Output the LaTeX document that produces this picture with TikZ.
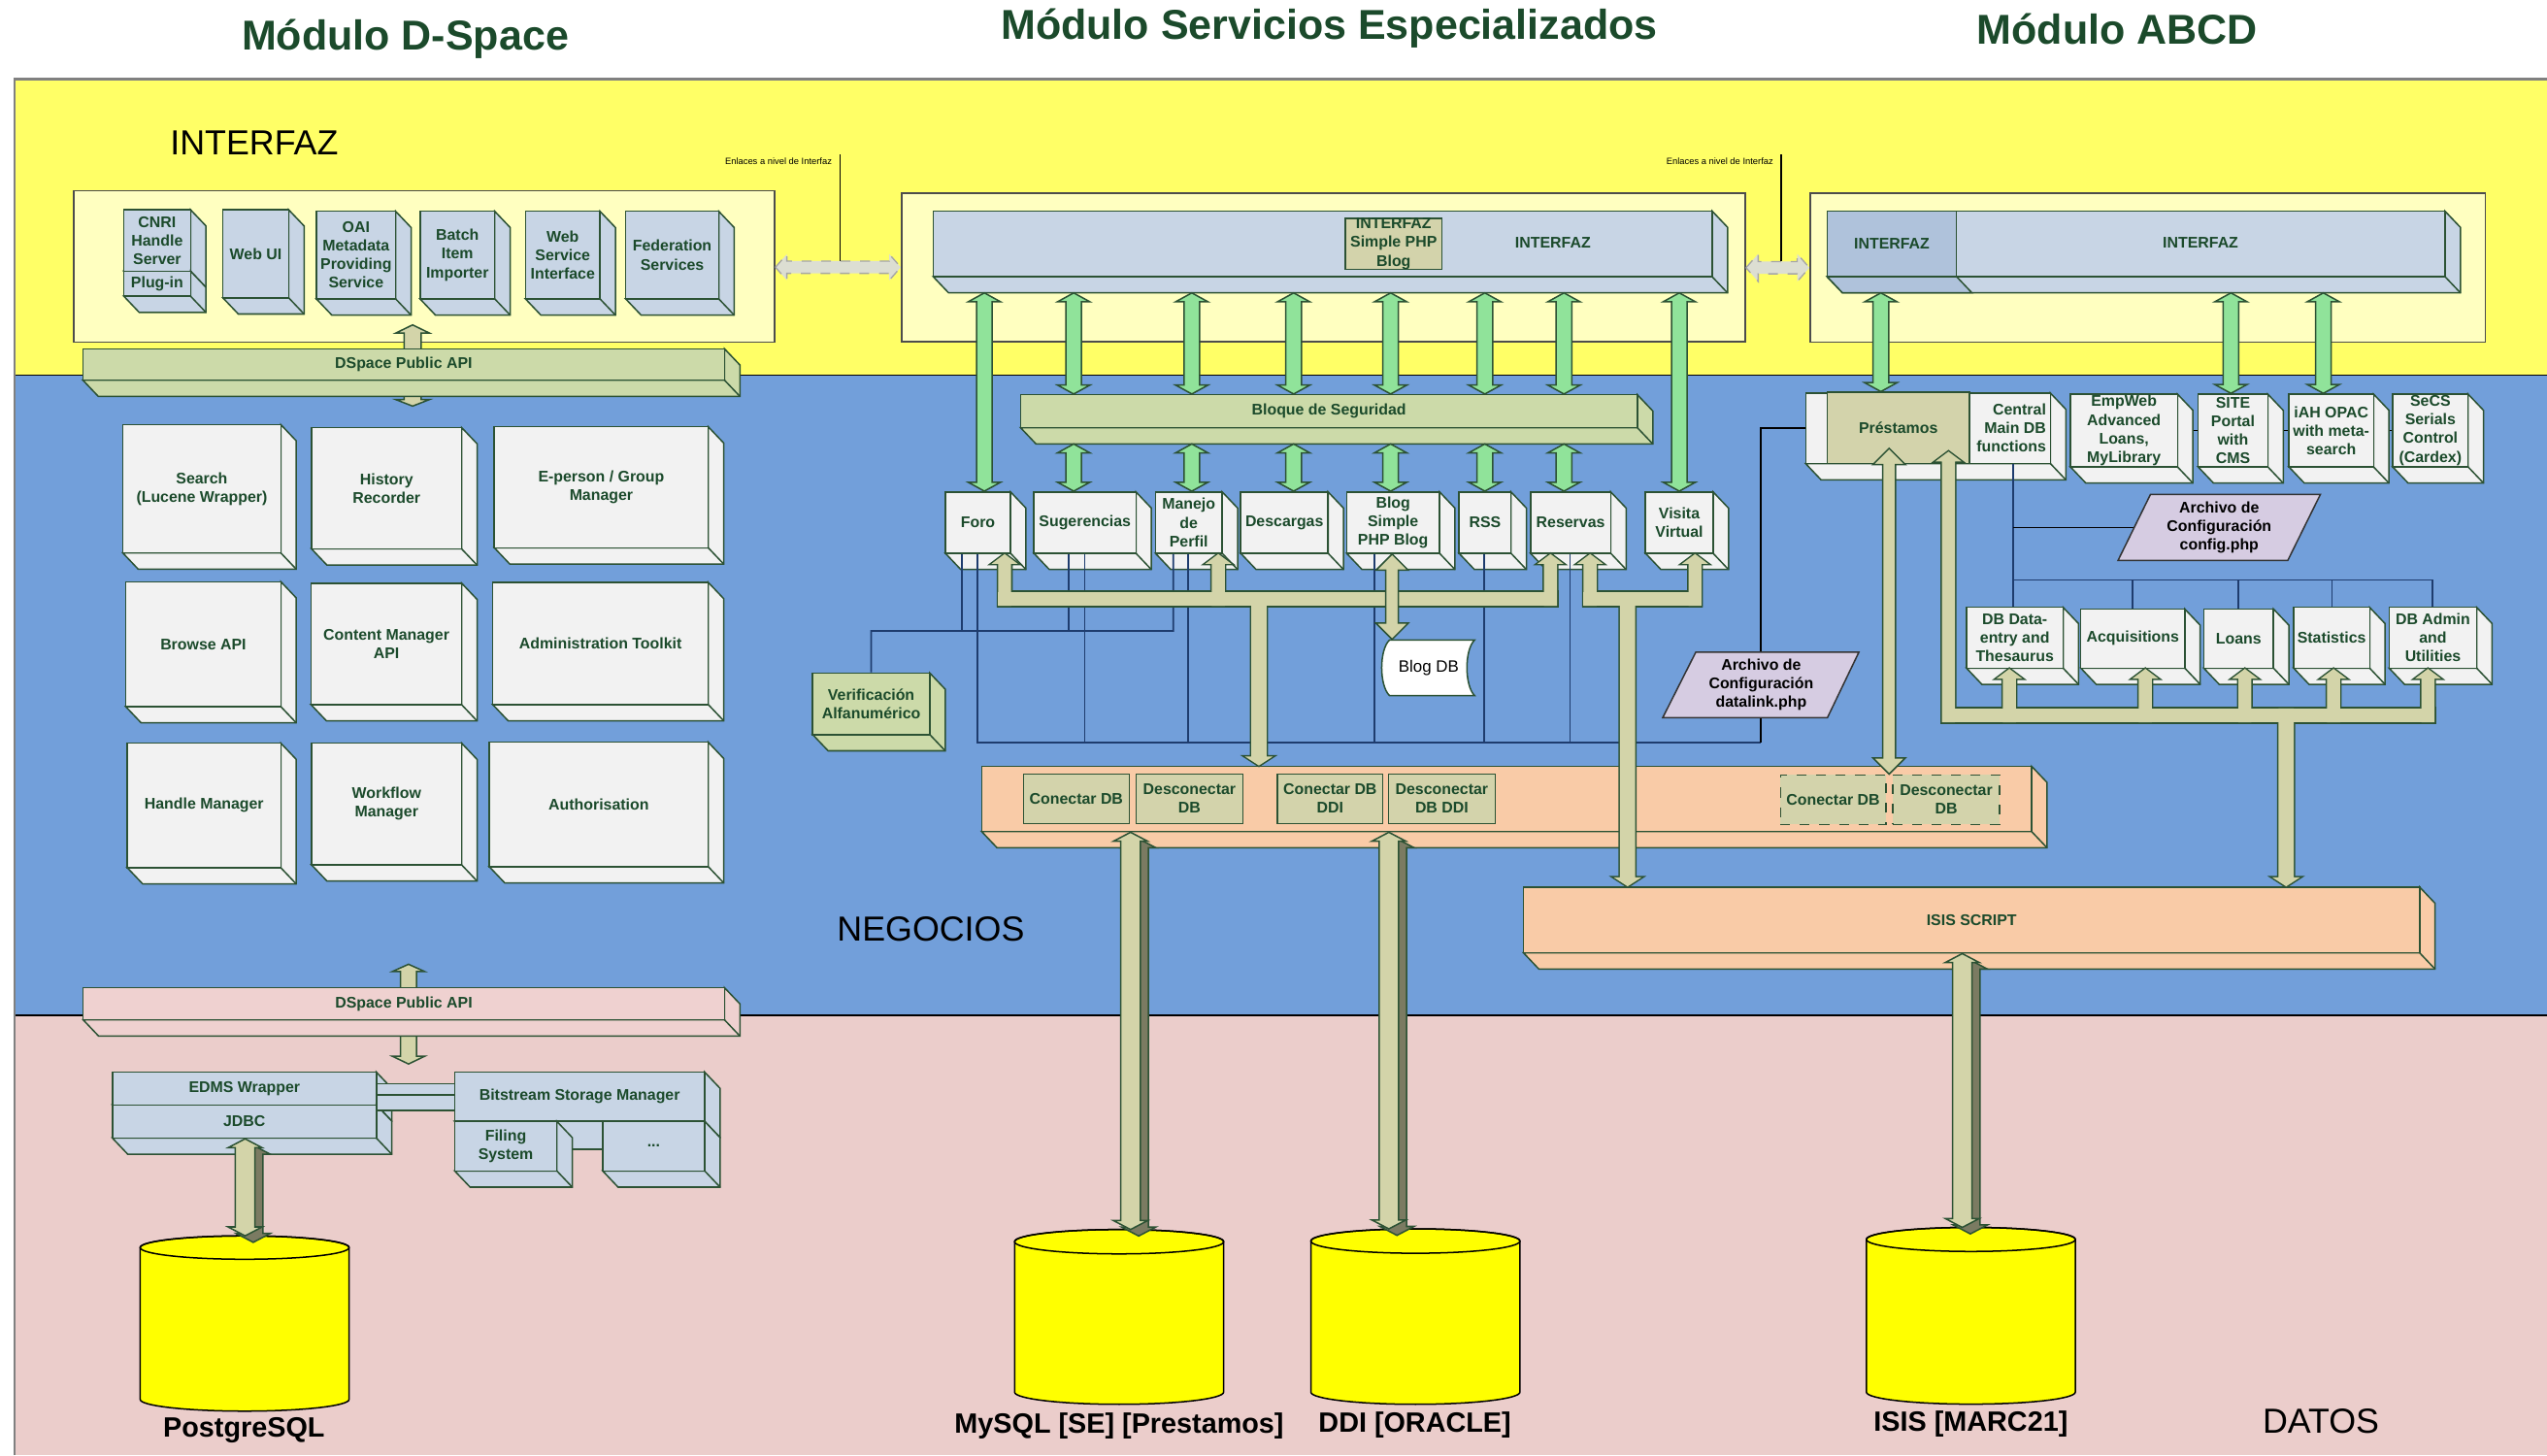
\documentclass[tikz,border=0pt]{standalone}
\usepackage{fontspec}
\setmainfont{Liberation Sans}
\usetikzlibrary{calc}
\definecolor{bandY}{HTML}{FFFF66}
\definecolor{bandB}{HTML}{729FDA}
\definecolor{bandP}{HTML}{EBCDCB}
\definecolor{contY}{HTML}{FFFFC0}
\definecolor{boxBlue}{HTML}{C8D5E5}
\definecolor{boxBlueD}{HTML}{AFC2DB}
\definecolor{boxGray}{HTML}{F2F2F2}
\definecolor{barGreen}{HTML}{CCDAA9}
\definecolor{olive}{HTML}{D3D3AB}
\definecolor{peach}{HTML}{F9CBA7}
\definecolor{pinkbar}{HTML}{EFD1D0}
\definecolor{arrGreen}{HTML}{90E39A}
\definecolor{beige}{HTML}{D3D4A9}
\definecolor{darkside}{HTML}{7B7B62}
\definecolor{lav}{HTML}{D6CCE2}
\definecolor{dashfill}{HTML}{DCDED2}
\definecolor{edge}{HTML}{2C5234}
\definecolor{txtG}{HTML}{1B4A2B}
\definecolor{navy}{HTML}{1E3C6E}
\definecolor{cylY}{HTML}{FFFF00}
\tikzset{
  edgeline/.style={draw=edge, line width=0.45pt},
  boxtext/.style={font=\fontsize{4.75}{5.7}\selectfont\bfseries, text=txtG, align=center},
  cubefront/.style={edgeline, inner sep=0pt, boxtext},
  contbox/.style={draw=black!70, line width=0.5pt},
  conn/.style={draw=navy, line width=0.5pt},
  connk/.style={draw=black, line width=0.5pt},
  biglabel/.style={font=\fontsize{10.7}{12}\selectfont, text=black, inner sep=0pt},
  titletext/.style={font=\fontsize{12.85}{14}\selectfont\bfseries, text=txtG, inner sep=0pt},
  dblabel/.style={font=\fontsize{8.6}{10}\selectfont\bfseries, text=black, inner sep=0pt},
  tinytext/.style={font=\fontsize{2.8}{3.2}\selectfont, text=black, inner sep=0pt},
  cylstyle/.style={draw=black, line width=0.45pt, fill=cylY},
  garr/.style={edgeline, fill=arrGreen},
  barr/.style={edgeline, fill=beige},
  dashedarr/.style={draw=gray!70, dashed, line width=0.4pt, fill=dashfill},
  forkout/.style={draw=edge, line width=0.9pt, fill=beige},
  forkin/.style={draw=none, fill=beige},
  cfgtext/.style={font=\fontsize{4.75}{5.7}\selectfont\bfseries, text=black, align=center, inner sep=0pt},
}
% 3D box: name, x1, y1, x2, y2, fill, text
\newcommand{\cubebox}[7]{%
  \filldraw[edgeline, fill=#6] (#4,#3) -- ({#4+9.5},{#3+10}) -- ({#4+9.5},{#5+10}) -- ({#2+9.5},{#5+10}) -- (#2,#5) -- (#4,#5) -- cycle;
  \draw[edgeline] (#4,#5) -- ({#4+9.5},{#5+10});
  \node[cubefront, fill=#6, minimum width={(#4-#2)*0.5pt}, minimum height={(#5-#3)*0.5pt}] (#1) at ({(#2+#4)/2},{(#3+#5)/2}) {#7};
  \coordinate (#1b) at ({#2+9.5},{#5+10});}
% flat box: name, x1, y1, x2, y2, fill, extra, text
\newcommand{\flatbox}[8]{%
  \node[cubefront, fill=#6, minimum width={(#4-#2)*0.5pt}, minimum height={(#5-#3)*0.5pt}, #7] (#1) at ({(#2+#4)/2},{(#3+#5)/2}) {#8};}
\newcommand{\arrox}{0}\newcommand{\arroy}{0}
% vertical block arrow: x, top, bottom, style, shaft half, top head half, top head len, bottom head half, bottom head len
\newcommand{\vblock}[9]{%
  \filldraw[#4] ($(#1,0 |- #2)+(\arrox,\arroy)$) -- ++(#6,#7) -- ++({#5-#6},0) -- ($(#1,0 |- #3)+({#5+\arrox},{-#9+\arroy})$) -- ++({#8-#5},0) -- ($(#1,0 |- #3)+(\arrox,\arroy)$) -- ++({-#8},{-#9}) -- ++({#8-#5},0) -- ($(#1,0 |- #2)+({-#5+\arrox},{#7+\arroy})$) -- ++({#5-#6},0) -- cycle;}
% horizontal double arrow: y, left, right, style, shaft half, head half, head len
\newcommand{\hblock}[7]{%
  \filldraw[#4] (#2 |- 0,#1) -- ++(#7,{-#6}) -- ++(0,{#6-#5}) -- ($(#3 |- 0,#1)+({-#7},{-#5})$) -- ++(0,{#5-#6}) -- (#3 |- 0,#1) -- ++({-#7},#6) -- ++(0,{#5-#6}) -- ($(#2 |- 0,#1)+(#7,#5)$) -- ++(0,{#6-#5}) -- cycle;}
% 3D arrow
\newcommand{\tdblock}[3]{%
  \renewcommand{\arrox}{5}\renewcommand{\arroy}{4}%
  \vblock{#1}{#2}{#3}{edgeline, fill=darkside}{6}{10.5}{5.5}{10.5}{5.5}%
  \renewcommand{\arrox}{0}\renewcommand{\arroy}{0}%
  \vblock{#1}{#2}{#3}{edgeline, fill=beige}{6}{10.5}{5.5}{10.5}{5.5}}
% cylinder: name, x1, x2, ytop, ybot, ry
\newcommand{\dbcyl}[6]{%
  \filldraw[cylstyle] (#2,#4) -- (#2,#5) arc[start angle=180, end angle=0, x radius={(#3-#2)/2}, y radius=#6] -- (#3,#4) arc[start angle=0, end angle=-180, x radius={(#3-#2)/2}, y radius=#6] -- cycle;
  \draw[cylstyle, fill=none] ({(#2+#3)/2},#4) ellipse [x radius={(#3-#2)/2}, y radius=#6];
  \coordinate (#1) at ({(#2+#3)/2},{#4-#6});}
\newcommand{\forkparts}[1]{%
  \path[#1] (614.5,364.5) rectangle (958.5,372.9);
  \vblock{618.5}{foro.south}{0,372.9}{#1}{4}{8}{6}{4}{0}
  \vblock{750}{manejo.south}{0,372.9}{#1}{4}{8}{6}{4}{0}
  \vblock{954.5}{reservas.south}{0,372.9}{#1}{4}{8}{6}{4}{0}
  \vblock{775}{0,364.5}{dbbar.north}{#1}{4.7}{4.7}{0}{8.5}{5.5}
  \path[#1] (974.9,364.5) rectangle (1047.5,372.9);
  \vblock{978.9}{reservas.south}{0,372.9}{#1}{4}{8}{6}{4}{0}
  \vblock{1043.5}{visita.south}{0,372.9}{#1}{4}{8}{6}{4}{0}
  \vblock{1002}{0,364.5}{isis.north}{#1}{4.7}{4.7}{0}{8.5}{5.5}
  \path[#1] (1195.5,436.2) rectangle (1498.7,444.6);
  \vblock{1199.5}{prestIn}{0,444.6}{#1}{4}{8}{6}{4}{0}
  \vblock{1237}{dbdata.south}{0,444.6}{#1}{4}{8}{6}{4}{0}
  \vblock{1320.7}{acq.south}{0,444.6}{#1}{4}{8}{6}{4}{0}
  \vblock{1382}{loans.south}{0,444.6}{#1}{4}{8}{6}{4}{0}
  \vblock{1436.6}{stats.south}{0,444.6}{#1}{4}{8}{6}{4}{0}
  \vblock{1494.7}{dbadmin.south}{0,444.6}{#1}{4}{8}{6}{4}{0}
  \vblock{1407.4}{0,436.2}{isis.north}{#1}{4.7}{4.7}{0}{8.5}{5.5}
}
\begin{document}
\begin{tikzpicture}[x=0.5pt,y=-0.5pt]
\useasboundingbox (0,0) rectangle (1568,896);
% ---------- bands
\fill[white] (0,0) rectangle (1568,896);
\fill[bandY] (9,48.8) rectangle (1568,231);
\fill[bandB] (9,231) rectangle (1568,625);
\fill[bandP] (9,625) rectangle (1568,896);
\draw[black, line width=0.5pt] (9,231) -- (1568,231);
\draw[black, line width=0.5pt] (9,625) -- (1568,625);
\draw[gray, line width=0.8pt] (9,896) -- (9,48.8) -- (1568,48.8);
% ---------- titles and labels
\node[titletext, anchor=base] (t1) at (249.5,30.9) {Módulo D-Space};
\node[titletext, anchor=base] (t2) at (818.3,23.9) {Módulo Servicios Especializados};
\node[titletext, anchor=base] (t3) at (1303.5,26.9) {Módulo ABCD};
\node[biglabel, anchor=base] (lint) at (156.5,95.6) {INTERFAZ};
\node[biglabel, anchor=base] (lneg) at (573,579.6) {NEGOCIOS};
\node[biglabel, anchor=base] (ldat) at (1428.8,882.2) {DATOS};
% ---------- containers
\flatbox{dsif}{45.6}{117.5}{476.9}{210.7}{contY}{contbox}{}
\flatbox{seif}{555}{118.9}{1074.4}{210.5}{contY}{contbox}{}
\flatbox{abif}{1114.4}{119.1}{1530}{210.7}{contY}{contbox}{}
% ---------- links between interfaces
\hblock{164.5}{dsif.east}{seif.west}{dashedarr}{3.8}{8}{7}
\hblock{164.8}{seif.east}{abif.west}{dashedarr}{3.8}{8.5}{7.5}
\coordinate (enlA) at (517,95.2);
\coordinate (enlB) at (1096.5,95.2);
\draw[black, line width=0.4pt] (enlA) -- (517,160.7);
\draw[black, line width=0.4pt] (enlB) -- (1096.5,161);
\node[tinytext, anchor=base east] (enlAt) at (512.5,101) {Enlaces a nivel de Interfaz};
\node[tinytext, anchor=base east] (enlBt) at (1092,101) {Enlaces a nivel de Interfaz};
% ---------- D-Space interface
\cubebox{cnri}{76.2}{129.1}{117.3}{166.9}{boxBlue}{CNRI\\Handle\\Server}
\cubebox{plugin}{76.2}{166.9}{117.3}{182.3}{boxBlue}{Plug-in}
\cubebox{webui}{137.2}{129.1}{177.7}{183.3}{boxBlue}{Web UI}
\cubebox{oai}{194.8}{130.1}{243.6}{184}{boxBlue}{OAI\\Metadata\\Providing\\Service}
\cubebox{batch}{258.6}{130.1}{304.6}{184}{boxBlue}{Batch\\Item\\Importer}
\cubebox{websvc}{323.5}{130.1}{369.4}{184}{boxBlue}{Web\\Service\\Interface}
\cubebox{fed}{385.2}{130.1}{442.5}{184}{boxBlue}{Federation\\Services}
\coordinate (apiA1) at (254,200);
\coordinate (apiA2) at (254,250);
\vblock{254}{apiA1}{apiA2}{barr}{5.2}{10.3}{5}{10.3}{4}
\cubebox{apiG}{51}{214.7}{446}{234}{barGreen}{DSpace Public API}
% ---------- D-Space business
\cubebox{search}{75.6}{261.4}{172.9}{340.4}{boxGray}{Search\\(Lucene Wrapper)}
\cubebox{history}{191.8}{263.2}{284.2}{337.9}{boxGray}{History\\Recorder}
\cubebox{eperson}{304.3}{262.7}{436}{337.2}{boxGray}{E-person / Group\\Manager}
\cubebox{browse}{77.4}{358.1}{172.9}{435}{boxGray}{Browse API}
\cubebox{content}{191.5}{359}{284.2}{433.8}{boxGray}{Content Manager\\API}
\cubebox{admin}{303.3}{358.5}{436}{433.7}{boxGray}{Administration Toolkit}
\cubebox{handle}{78.4}{457.5}{172.9}{534.2}{boxGray}{Handle Manager}
\cubebox{workflow}{191.8}{457.5}{284.2}{532.4}{boxGray}{Workflow\\Manager}
\cubebox{auth}{301.2}{456.9}{436}{533.5}{boxGray}{Authorisation}
% ---------- D-Space data
\coordinate (apiB1) at (251.5,593.6);
\coordinate (apiB2) at (251.5,655);
\vblock{251.5}{apiB1}{apiB2}{barr}{4.9}{10}{4.5}{10}{4.8}
\cubebox{apiP}{51.2}{608}{446}{627.8}{pinkbar}{DSpace Public API}
\cubebox{edms}{69.2}{660}{231.7}{680.2}{boxBlue}{EDMS Wrapper}
\cubebox{jdbc}{69.2}{680.2}{231.7}{700.6}{boxBlue}{JDBC}
\flatbox{bconA}{231.7}{667.3}{280}{673.9}{boxBlue}{}{}
\flatbox{bconB}{231.7}{673.9}{280}{683.6}{boxBlue}{}{}
\cubebox{bsm}{279.9}{660}{433.8}{690.3}{boxBlue}{Bitstream Storage Manager}
\flatbox{fcon}{342.8}{690.3}{371}{707.5}{boxBlue}{}{}
\cubebox{filing}{279.9}{690.3}{342.8}{720.8}{boxBlue}{Filing\\System}
\cubebox{dots}{371}{690.3}{433.8}{720.8}{boxBlue}{...}
% ---------- Servicios Especializados interface
\cubebox{sebar}{574.5}{129.9}{1054}{170.3}{boxBlue}{}
\node[boxtext, inner sep=0pt] (sebarT) at (956,149.4) {INTERFAZ};
\flatbox{blogif}{828.2}{134.9}{887.7}{165.3}{olive}{}{INTERFAZ\\Simple PHP\\Blog}
\cubebox{bloque}{628.3}{243}{1008}{263.3}{barGreen}{Bloque de Seguridad}
\cubebox{foro}{582}{302.8}{622.1}{340.6}{boxGray}{Foro}
\cubebox{sug}{636.5}{302.8}{699.3}{340.6}{boxGray}{Sugerencias}
\cubebox{manejo}{711.3}{302.8}{752.4}{340.6}{boxGray}{Manejo\\de\\Perfil}
\cubebox{desc}{763.8}{302.8}{817.6}{340.6}{boxGray}{Descargas}
\cubebox{blog}{829}{302.8}{886.2}{340.6}{boxGray}{Blog\\Simple\\PHP Blog}
\cubebox{rss}{898.2}{302.8}{930.2}{340.6}{boxGray}{RSS}
\cubebox{reservas}{942.2}{302.8}{991.6}{340.6}{boxGray}{Reservas}
\cubebox{visita}{1013}{302.8}{1054.6}{340.6}{boxGray}{Visita\\Virtual}
\cubebox{verif}{500.3}{414.3}{572.4}{452.2}{barGreen}{Verificación\\Alfanumérico}
% Blog DB
\filldraw[edgeline, fill=white] (855.4,394) -- (907.8,394) .. controls (901.5,400) and (901.5,422) .. (907.8,428.2) -- (855.4,428.2) .. controls (849,422) and (849,400) .. (855.4,394) -- cycle;
\node[inner sep=0pt, minimum width={(907.8-851.3)*0.5pt}, minimum height={(428.2-394)*0.5pt}, font=\fontsize{5.05}{6}\selectfont, text=black] (blogdb) at (879.5,411.1) {Blog DB};
% DB connection bar
\cubebox{dbbar}{604.3}{471.7}{1250.7}{511.9}{peach}{}
\flatbox{cdbA}{630}{476.5}{695.2}{506.9}{olive}{}{Conectar DB}
\flatbox{ddbA}{699.3}{476.5}{765.2}{506.9}{olive}{}{Desconectar\\DB}
\flatbox{cdbB}{786.4}{476.5}{851.3}{506.9}{olive}{}{Conectar DB\\DDI}
\flatbox{ddbB}{854.7}{476.5}{920.5}{506.9}{olive}{}{Desconectar\\DB DDI}
\flatbox{cdbC}{1096.1}{477}{1160.9}{507.5}{olive}{dashed}{Conectar DB}
\flatbox{ddbC}{1165.2}{477}{1231}{507.5}{olive}{dashed}{Desconectar\\DB}
\cubebox{isis}{937.9}{546.1}{1489.6}{586.6}{peach}{ISIS SCRIPT}
% ---------- ABCD interface
\cubebox{abbar}{1124.8}{130}{1505.2}{170.3}{boxBlue}{}
\filldraw[edgeline, fill=boxBlueD] (1124.8,170.3) -- (1204.5,170.3) -- (1214,180.3) -- (1134.3,180.3) -- cycle;
\flatbox{abifl}{1124.8}{130}{1204.5}{170.3}{boxBlueD}{}{INTERFAZ}
\node[boxtext, inner sep=0pt] (abbarT) at (1354.7,149.4) {INTERFAZ};
% ---------- ABCD business
\cubebox{prestbox}{1111.6}{242}{1262.3}{285.4}{boxGray}{}
\flatbox{prest}{1125}{241.5}{1212.3}{285.4}{olive}{}{Préstamos}
\node[boxtext, align=right, anchor=east, inner sep=0pt] (central) at (1260,263.5) {Central\\Main DB\\functions};
\cubebox{empweb}{1274.6}{242.6}{1340.5}{287.4}{boxGray}{EmpWeb\\Advanced\\Loans,\\MyLibrary}
\cubebox{site}{1353.2}{242.6}{1396.1}{287.4}{boxGray}{SITE\\Portal\\with\\CMS}
\cubebox{iah}{1409.1}{242.6}{1461.2}{287.4}{boxGray}{iAH OPAC\\with meta-\\search}
\cubebox{secs}{1473}{242.6}{1519.4}{287.4}{boxGray}{SeCS\\Serials\\Control\\(Cardex)}
\draw[connk] (empweb.east) ++(9.5,0) -- (site.west);
\draw[connk] (site.east) ++(9.5,0) -- (iah.west);
\draw[connk] (iah.east) ++(9.5,0) -- (secs.west);
\cubebox{dbdata}{1210.6}{373.9}{1270.1}{411.3}{boxGray}{DB Data-\\entry and\\Thesaurus}
\cubebox{acq}{1281}{374.9}{1345}{411.3}{boxGray}{Acquisitions}
\cubebox{loans}{1356.7}{374.9}{1399.6}{411.3}{boxGray}{Loans}
\cubebox{stats}{1412}{373.9}{1458.8}{411.3}{boxGray}{Statistics}
\cubebox{dbadmin}{1470.8}{373.9}{1524.7}{411.3}{boxGray}{DB Admin\\and\\Utilities}
% ---------- thin connectors
\draw[conn] (592,0 |- foro.south) -- (592,388.4);
\draw[conn] (657.8,0 |- sug.south) -- (657.8,388.4);
\draw[conn] (722.3,0 |- manejo.south) -- (722.3,388.4) -- (536.35,388.4) -- (verif.north);
\draw[conn] (601.9,0 |- foro.south) -- (601.9,457.1) -- (1083.8,457.1);
\draw[connk] (1083.8,457.1) -- (1083.8,263.7) -- (prestbox.west);
\draw[conn] (667.7,0 |- sug.south) -- (667.7,457.1);
\draw[conn] (731.5,0 |- manejo.south) -- (731.5,457.1);
\draw[conn] (846.1,0 |- blog.south) -- (846.1,457.1);
\draw[conn] (913.7,0 |- rss.south) -- (913.7,457.1);
\draw[conn] (966.5,0 |- reservas.south) -- (966.5,457.1);
\draw[conn] (1239.5,0 |- prestbox.south) -- (1239.5,0 |- dbdata.north);
\draw[connk] (1239.5,324.7) -- (1314,324.7);
\draw[conn] (1239.5,357) -- (1497.5,357);
\draw[conn] (1313,357) -- (1313,0 |- acq.north);
\draw[conn] (1377.8,357) -- (1377.8,0 |- loans.north);
\draw[conn] (1435.6,357) -- (1435.6,0 |- stats.north);
\draw[conn] (1497.5,357) -- (1497.5,0 |- dbadmin.north);
% ---------- beige pipes
\coordinate (prestIn) at (1199.5,278);
\coordinate (prestIn2) at (1163,276);
\forkparts{forkout}
\forkparts{forkin}
\vblock{1163}{prestIn2}{cdbC.north}{barr}{3.9}{10}{10}{10}{10}
\vblock{857}{blog.south}{blogdb.north}{barr}{3.9}{10}{10}{10}{10}
% ---------- green arrows
\vblock{606}{sebarb}{foro.north}{garr}{4.8}{10}{5.5}{10}{5.5}
\vblock{661}{sebarb}{bloque.north}{garr}{4.8}{10}{5.5}{10}{5.5}
\vblock{733.7}{sebarb}{bloque.north}{garr}{4.8}{10}{5.5}{10}{5.5}
\vblock{796.4}{sebarb}{bloque.north}{garr}{4.8}{10}{5.5}{10}{5.5}
\vblock{856.1}{sebarb}{bloque.north}{garr}{4.8}{10}{5.5}{10}{5.5}
\vblock{914.1}{sebarb}{bloque.north}{garr}{4.8}{10}{5.5}{10}{5.5}
\vblock{962.8}{sebarb}{bloque.north}{garr}{4.8}{10}{5.5}{10}{5.5}
\vblock{1033.8}{sebarb}{visita.north}{garr}{4.8}{10}{5.5}{10}{5.5}
\vblock{661}{bloqueb}{sug.north}{garr}{4.8}{10}{5.5}{10}{5.5}
\vblock{733.7}{bloqueb}{manejo.north}{garr}{4.8}{10}{5.5}{10}{5.5}
\vblock{796.4}{bloqueb}{desc.north}{garr}{4.8}{10}{5.5}{10}{5.5}
\vblock{856.1}{bloqueb}{blog.north}{garr}{4.8}{10}{5.5}{10}{5.5}
\vblock{914.1}{bloqueb}{rss.north}{garr}{4.8}{10}{5.5}{10}{5.5}
\vblock{962.8}{bloqueb}{reservas.north}{garr}{4.8}{10}{5.5}{10}{5.5}
\vblock{1157.9}{abbarb}{prest.north}{garr}{4.8}{10}{5.5}{10}{5.5}
\vblock{1373.4}{abbarb}{site.north}{garr}{4.8}{10}{5.5}{10}{5.5}
\vblock{1430.3}{abbarb}{iah.north}{garr}{4.8}{10}{5.5}{10}{5.5}
% ---------- config files
\filldraw[edgeline, draw=black!80, fill=lav] (1323.9,304.3) -- (1428.5,304.3) -- (1408.4,345) -- (1303.9,345) -- cycle;
\node[cfgtext] (cfgphp) at (1366.2,324.6) {Archivo de\\Configuración\\config.php};
\filldraw[edgeline, draw=black!80, fill=lav] (1044,401.4) -- (1144.4,401.4) -- (1125,441.8) -- (1023.6,441.8) -- cycle;
\node[cfgtext] (datalink) at (1084.2,421.6) {Archivo de\\Configuración\\datalink.php};
% ---------- databases
\dbcyl{pgdb}{86.3}{214.9}{768}{861.5}{7.2}
\dbcyl{mysqldb}{624.6}{753.3}{764.4}{857}{7.5}
\dbcyl{ddidb}{807}{935.7}{764}{857}{7.5}
\dbcyl{isisdb}{1149}{1277.6}{763}{857}{7.4}
\tdblock{150.9}{jdbc.south}{pgdb}
\tdblock{696}{dbbar.south}{mysqldb}
\tdblock{855}{dbbar.south}{ddidb}
\tdblock{1208}{isis.south}{isisdb}
\node[dblabel, anchor=base] (pgl) at (150.2,884.7) {PostgreSQL};
\node[dblabel, anchor=base] (myl) at (689,882) {MySQL [SE] [Prestamos]};
\node[dblabel, anchor=base] (ddil) at (871,881.5) {DDI [ORACLE]};
\node[dblabel, anchor=base] (isisl) at (1213.3,881) {ISIS [MARC21]};
\end{tikzpicture}
\end{document}
